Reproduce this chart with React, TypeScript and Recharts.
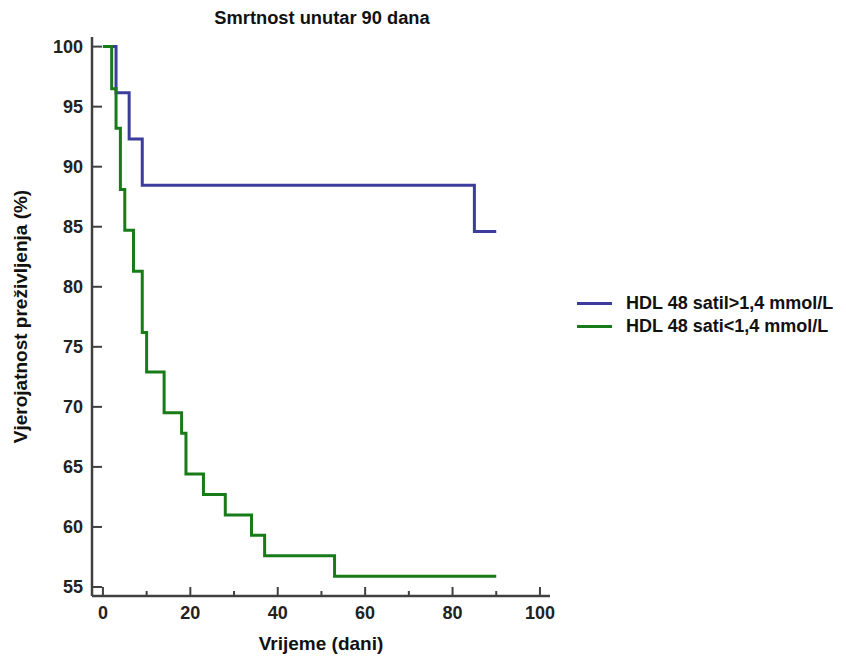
import { LineChart, Line, XAxis, YAxis } from 'recharts'

// survival times (days) and survival (%)
const highTimes = [0, 3, 6, 9, 85, 90]
const highSurvival = [100, 96.15, 92.3, 88.46, 84.6, 84.6]

const lowTimes = [0, 2, 3, 4, 5, 7, 9, 10, 14, 18, 19, 23, 28, 34, 37, 53, 90]
const lowSurvival = [100, 96.5, 93.2, 88.1, 84.7, 81.3, 76.2, 72.9, 69.5, 67.8, 64.4, 62.7, 61.0, 59.3, 57.6, 55.9, 55.9]

const xTicks = [0, 10, 20, 30, 40, 50, 60, 70, 80, 90, 100]
const yTicks = [55, 60, 65, 70, 75, 80, 85, 90, 95, 100]

const seriesNames = ['HDL 48 satil>1,4 mmol/L', 'HDL 48 sati<1,4 mmol/L']
const seriesColors = ['#3c3c9c', '#197a19']

const FONT = '"Liberation Sans", Arial, sans-serif'
const AXIS = '#404040'

const highData = highTimes.map((t, i) => ({ t, s: highSurvival[i] }))
const lowData = lowTimes.map((t, i) => ({ t, s: lowSurvival[i] }))

function XTick({ x, y, payload }: any) {
  const major = payload.value % 20 === 0
  return (
    <g>
      <line x1={x} x2={x} y1={y} y2={y - (major ? 9 : 5)} stroke={AXIS} strokeWidth={2} />
      {major && (
        <text x={x} y={y + 23} textAnchor="middle" fontFamily={FONT} fontWeight="bold" fontSize={18} fill="#222">
          {payload.value}
        </text>
      )}
    </g>
  )
}

function YTick({ x, y, payload }: any) {
  return (
    <g>
      <line x1={x} x2={x + 10} y1={y} y2={y} stroke={AXIS} strokeWidth={2} />
      <text x={x - 9} y={y + 6.5} textAnchor="end" fontFamily={FONT} fontWeight="bold" fontSize={18} fill="#222">
        {payload.value}
      </text>
    </g>
  )
}

function LegendBox() {
  return (
    <div
      style={{
        position: 'absolute',
        left: 577,
        top: 292,
        fontFamily: FONT,
        fontWeight: 'bold',
        fontSize: 18,
        color: '#111',
      }}
    >
      {seriesNames.map((name, i) => (
        <div key={name} style={{ display: 'flex', alignItems: 'center', height: 23 }}>
          <div style={{ width: 35, height: 3, background: seriesColors[i], marginRight: 14 }} />
          <span>{name}</span>
        </div>
      ))}
    </div>
  )
}

export default function App() {
  return (
    <div style={{ position: 'absolute', left: 0, top: 0, width: 846, height: 657, background: '#fff' }}>
      <div
        style={{
          position: 'absolute',
          left: 92,
          width: 460,
          top: 7,
          textAlign: 'center',
          fontFamily: FONT,
          fontWeight: 'bold',
          fontSize: 18.3,
          color: '#111',
        }}
      >
        Smrtnost unutar 90 dana
      </div>
      <LineChart width={846} height={657} margin={{ top: 37, right: 296, left: 32, bottom: 31 }}>
        <XAxis
          type="number"
          dataKey="t"
          domain={[-2.5, 102.3]}
          ticks={xTicks}
          allowDataOverflow
          height={30}
          tickSize={0}
          tickMargin={0}
          tick={<XTick />}
          stroke={AXIS}
          strokeWidth={2.5}
          label={{
            value: 'Vrijeme (dani)',
            position: 'bottom',
            offset: 11,
            style: { fontFamily: FONT, fontWeight: 'bold', fontSize: 19, fill: '#111' },
          }}
        />
        <YAxis
          type="number"
          dataKey="s"
          domain={[54.25, 100.8]}
          ticks={yTicks}
          allowDataOverflow
          width={60}
          tickSize={0}
          tickMargin={0}
          tick={<YTick />}
          stroke={AXIS}
          strokeWidth={2.5}
          label={{
            value: 'Vjerojatnost preživljenja (%)',
            angle: -90,
            position: 'left',
            offset: 12,
            style: { fontFamily: FONT, fontWeight: 'bold', fontSize: 19, fill: '#111', textAnchor: 'middle' },
          }}
        />
        <Line
          data={highData}
          dataKey="s"
          type="stepAfter"
          stroke={seriesColors[0]}
          strokeWidth={3}
          dot={false}
          name={seriesNames[0]}
          isAnimationActive={false}
        />
        <Line
          data={lowData}
          dataKey="s"
          type="stepAfter"
          stroke={seriesColors[1]}
          strokeWidth={3}
          dot={false}
          name={seriesNames[1]}
          isAnimationActive={false}
        />
      </LineChart>
      <LegendBox />
    </div>
  )
}
